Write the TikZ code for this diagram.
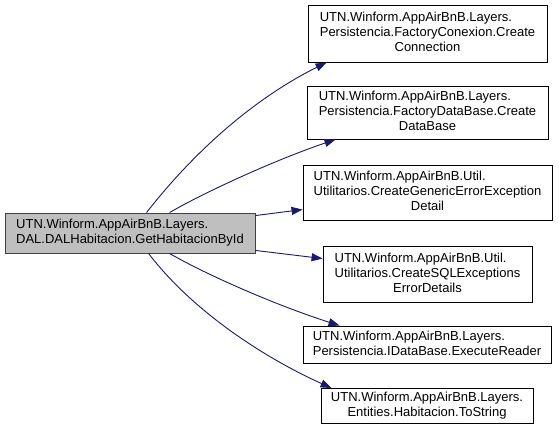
\documentclass[tikz,border=0pt]{standalone}
\usepackage{fontspec}
\setmainfont{Liberation Sans}
\usetikzlibrary{arrows.meta,calc}
\definecolor{edgeblue}{HTML}{191970}
\definecolor{mainfill}{HTML}{BFBFBF}
\definecolor{mainborder}{HTML}{404040}
\newcommand\dlbl[2]{\begin{tabular}{@{}l@{}}#1\\\multicolumn{1}{@{}c@{}}{#2}\end{tabular}}
\tikzset{
  fnbox/.style={draw=black,line width=0.9pt,fill=white,inner sep=0pt,
    font=\fontsize{13}{15}\selectfont},
  mainbox/.style={fnbox,fill=mainfill,draw=mainborder},
  edge/.style={draw=edgeblue,line width=0.9pt,-{Triangle[length=11pt,width=8pt]}}
}
\begin{document}
\begin{tikzpicture}[x=1pt,y=-1pt]
\useasboundingbox (0,0) rectangle (559,438);
\node[mainbox,minimum width=250pt,minimum height=40pt] (main) at (130,233)
  {\dlbl{UTN.Winform.AppAirBnB.Layers.}{DAL.DALHabitacion.GetHabitacionById}};
\node[fnbox,minimum width=239pt,minimum height=57pt] (b1) at (427.5,33.5)
  {\dlbl{UTN.Winform.AppAirBnB.Layers.\\Persistencia.FactoryConexion.Create}{Connection}};
\node[fnbox,minimum width=241pt,minimum height=53pt] (b2) at (427.5,112.5)
  {\dlbl{UTN.Winform.AppAirBnB.Layers.\\Persistencia.FactoryDataBase.Create}{DataBase}};
\node[fnbox,minimum width=249pt,minimum height=55pt] (b3) at (427.5,192.5)
  {\dlbl{UTN.Winform.AppAirBnB.Util.\\Utilitarios.CreateGenericErrorException}{Detail}};
\node[fnbox,minimum width=209pt,minimum height=56pt] (b4) at (427.5,274)
  {\dlbl{UTN.Winform.AppAirBnB.Util.\\Utilitarios.CreateSQLExceptions}{ErrorDetails}};
\node[fnbox,minimum width=248pt,minimum height=37pt] (b5) at (427,344.5)
  {\dlbl{UTN.Winform.AppAirBnB.Layers.}{Persistencia.IDataBase.ExecuteReader}};
\node[fnbox,minimum width=212pt,minimum height=35pt] (b6) at (427,406)
  {\dlbl{UTN.Winform.AppAirBnB.Layers.}{Entities.Habitacion.ToString}};
% edges
\draw[edge] ([xshift=142pt]main.north west) .. controls (197,148) and (257,97) .. ([xshift=19pt]b1.south west);
\draw[edge] ([xshift=165pt]main.north west) .. controls (205,192) and (275,160) .. ([xshift=29pt]b2.south west);
\draw[edge] ([yshift=-3pt]main.north east) -- ([yshift=-45pt]b3.north west);
\draw[edge] ([yshift=3pt]main.south east) -- ([yshift=-13pt]b4.north west);
\draw[edge] ([xshift=165pt]main.south west) .. controls (205,274) and (275,305) .. ([xshift=37pt]b5.north west);
\draw[edge] ([xshift=144pt]main.south west) .. controls (194,313) and (267,359) .. ([xshift=11pt]b6.north west);
\end{tikzpicture}
\end{document}
